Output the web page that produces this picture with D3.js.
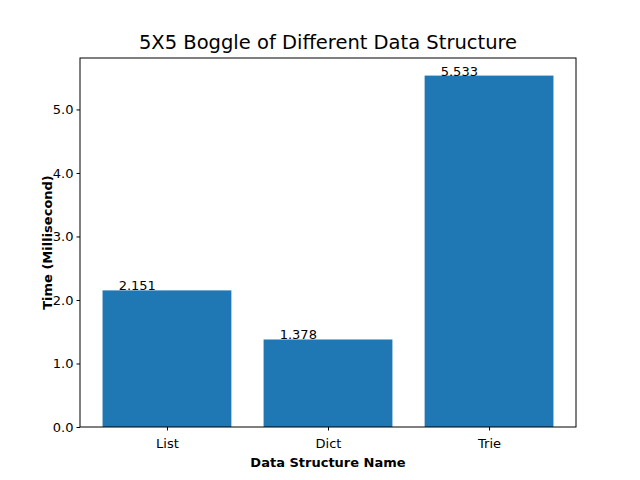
<!DOCTYPE html>
<html>
<head>
<meta charset="utf-8">
<script src="https://cdn.jsdelivr.net/npm/d3@7"></script>
<style>
  body { margin: 0; background: #fff; }
  text { font-family: "DejaVu Sans", sans-serif; }
</style>
</head>
<body>
<svg id="chart" width="640" height="480"></svg>
<script>
// datos del grafico
const categorias = ["List", "Dict", "Trie"];
const tiempos = [2.151, 1.378, 5.533];
const yTicks = [0, 1, 2, 3, 4, 5];

const margen = { left: 80, right: 576, top: 58, bottom: 427 };
const svg = d3.select("#chart");

const x = d3.scaleLinear().domain([-0.54, 2.54]).range([margen.left, margen.right]);
const y = d3.scaleLinear().domain([0, 5.81]).range([margen.bottom, margen.top]);

// barras
svg.selectAll("rect.bar").data(tiempos).enter().append("rect")
  .attr("class", "bar")
  .attr("x", (d, i) => x(i - 0.4))
  .attr("width", x(0.8) - x(0))
  .attr("y", d => y(d))
  .attr("height", d => y(0) - y(d))
  .attr("fill", "#1f77b4");

// etiquetas de valor
svg.selectAll("text.val").data(tiempos).enter().append("text")
  .attr("x", (d, i) => x(i - 0.3))
  .attr("y", d => y(d))
  .attr("font-size", 13)
  .text(d => d);

// ejes
const ejeX = svg.append("g").attr("transform", `translate(0,${margen.bottom})`)
  .call(d3.axisBottom(x).tickValues([0, 1, 2]).tickFormat(i => categorias[i]).tickSizeOuter(0).tickSize(3.5));
const ejeY = svg.append("g").attr("transform", `translate(${margen.left},0)`)
  .call(d3.axisLeft(y).tickValues(yTicks).tickSizeOuter(0).tickSize(3.5));
[ejeX, ejeY].forEach(g => {
  g.select(".domain").remove();
  g.selectAll("text").attr("font-size", 13).attr("fill", "#000");
  g.selectAll("line").attr("stroke", "#000");
});
ejeX.selectAll("text").attr("dy", "1.1em");

// marco
svg.append("rect")
  .attr("x", margen.left).attr("y", margen.top)
  .attr("width", margen.right - margen.left).attr("height", margen.bottom - margen.top)
  .attr("fill", "none").attr("stroke", "#000").attr("stroke-width", 1);

// titulos
svg.append("text").attr("x", (margen.left + margen.right) / 2).attr("y", 49)
  .attr("text-anchor", "middle").attr("font-size", 19.5)
  .text("5X5 Boggle of Different Data Structure");
svg.append("text").attr("x", (margen.left + margen.right) / 2).attr("y", 467)
  .attr("text-anchor", "middle").attr("font-size", 13).attr("font-weight", "bold")
  .text("Data Structure Name");
svg.append("text").attr("transform", `translate(52,${(margen.top + margen.bottom) / 2}) rotate(-90)`)
  .attr("text-anchor", "middle").attr("font-size", 13).attr("font-weight", "bold")
  .text("Time (Millisecond)");
</script>
</body>
</html>
